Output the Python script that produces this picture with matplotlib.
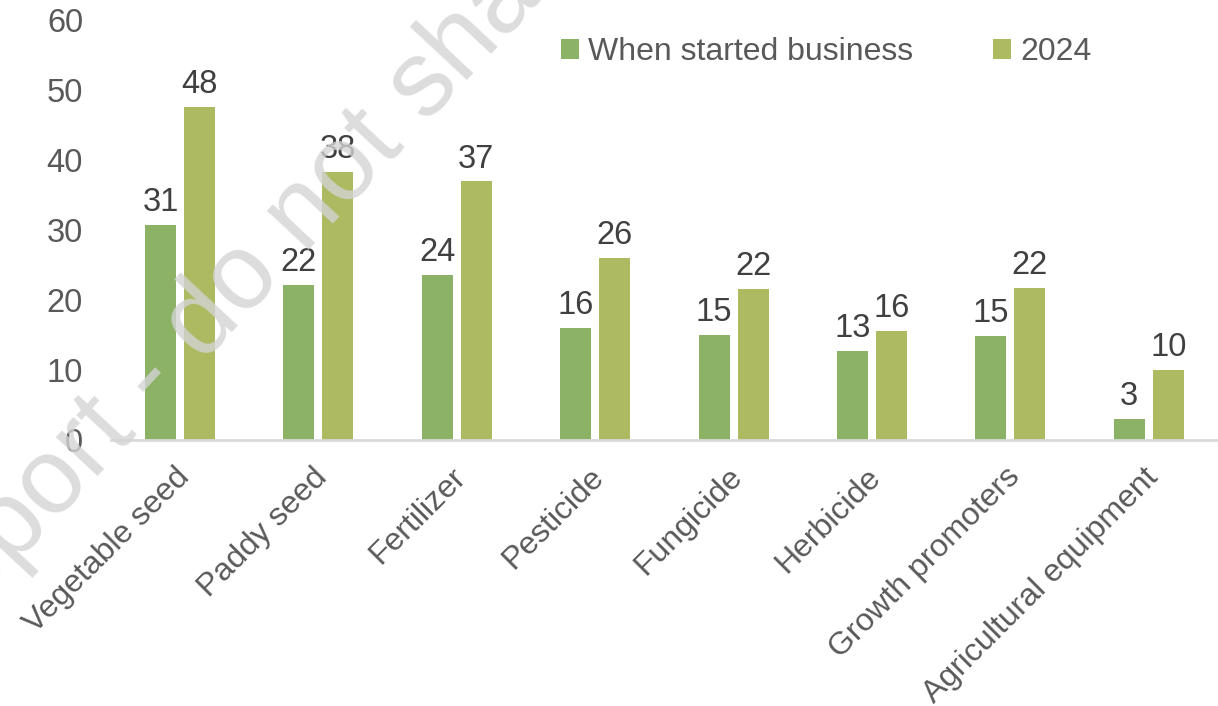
import matplotlib
matplotlib.use('Agg')
import matplotlib.pyplot as plt
import matplotlib.transforms as mtransforms
import numpy as np

categories = ["Vegetable seed", "Paddy seed", "Fertilizer", "Pesticide",
              "Fungicide", "Herbicide", "Growth promoters", "Agricultural equipment"]
started = [30.7, 22.1, 23.6, 16.0, 15.0, 12.7, 14.9, 3.0]
year_2024 = [47.6, 38.3, 36.9, 26.0, 21.6, 15.6, 21.7, 10.0]
series_names = ["When started business", "2024"]
yticks = [0, 10, 20, 30, 40, 50, 60]

GREEN = '#8bb265'
OLIVE = '#adba62'
TEXT = '#595959'
LABEL = '#404040'
FS = 23

plt.rcParams['font.family'] = ['Liberation Sans', 'DejaVu Sans']

fig = plt.figure(figsize=(12.18, 7.06), dpi=100)
ax = fig.add_axes([0.091, 0.377, 0.909, 0.595])

x = np.arange(len(categories))
w = 0.224
off = 0.141
b1 = ax.bar(x - off, started, w, color=GREEN, label=series_names[0], zorder=2)
b2 = ax.bar(x + off, year_2024, w, color=OLIVE, label=series_names[1], zorder=2)

for bars in (b1, b2):
    for rect in bars:
        h = rect.get_height()
        ax.annotate(f"{h:.0f}", (rect.get_x() + rect.get_width() / 2, h),
                    xytext=(0, 5), textcoords='offset points',
                    ha='center', va='bottom', fontsize=FS + 0.5, color=LABEL)

ax.set_xlim(-0.5, len(categories) - 0.5)
ax.set_ylim(0, 60)
ax.set_yticks(yticks)
ax.set_yticklabels([str(v) for v in yticks], fontsize=FS + 0.5, color=TEXT)
ax.set_xticks(x)
ax.set_xticklabels(categories, rotation=45, ha='right', va='top',
                   rotation_mode='anchor', fontsize=FS, color=TEXT)
ax.tick_params(axis='both', length=0)
ax.tick_params(axis='y', pad=20)
ax.tick_params(axis='x', pad=16)

# nudge category labels a little to the left
shift = mtransforms.ScaledTranslation(-6 / 100, 0, fig.dpi_scale_trans)
for lbl in ax.get_xticklabels():
    lbl.set_transform(lbl.get_transform() + shift)

for s in ('top', 'right', 'left'):
    ax.spines[s].set_visible(False)
ax.spines['bottom'].set_color('#d9d9d9')
ax.spines['bottom'].set_linewidth(2)

leg = ax.legend(ncol=2, frameon=False, loc='center right',
                bbox_to_anchor=(0.907, 0.926), bbox_transform=fig.transFigure,
                fontsize=FS, handlelength=0.55, handleheight=0.55,
                handletextpad=0.3, columnspacing=2.5, borderaxespad=0)
for t in leg.get_texts():
    t.set_color(TEXT)

# watermark
fig.text(0.1995, 0.605, "Report - do not share", fontsize=77, color='#d4d4d4',
         rotation=47, ha='center', va='center', rotation_mode='anchor',
         alpha=0.8, zorder=0)

fig.savefig('out.png', dpi=100)
